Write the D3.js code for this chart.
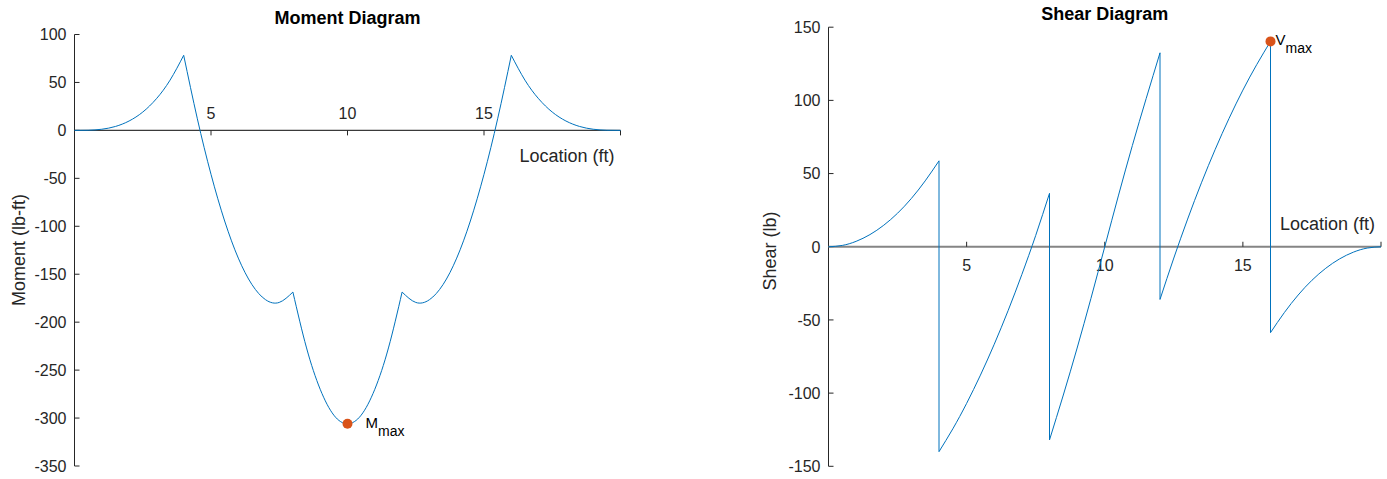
<!DOCTYPE html>
<html lang="en">
<head>
    <meta charset="utf-8">
    <script src="https://d3js.org/d3.v7.min.js"></script>
    <style>
        body {
            margin: 0px;
            background: #fff;
        }
        text {
            font-family: "Liberation Sans", Arial, sans-serif;
            fill: #262626;
        }
        .title {
            font-size: 18px;
            font-weight: bold;
            fill: #000;
        }
    </style>
</head>
<body>
<svg id="chart" width="1387" height="479"></svg>
<script>
// Locations along the beam (ft)
var locations = [0, 0.5, 1, 1.5, 2, 2.5, 3, 3.5, 4, 4.5, 5, 5.5, 6, 6.5, 7, 7.5, 8, 8.5, 9, 9.5,
    10, 10.5, 11, 11.5, 12, 12.5, 13, 13.5, 14, 14.5, 15, 15.5, 16, 16.5, 17, 17.5, 18, 18.5, 19, 19.5, 20];

// Bending moment (lb-ft)
var moment = [0, 0.15, 1.2, 4.1, 9.8, 19.1, 33.0, 52.4, 78.3, 12.1, -45.8, -94.5, -133.2, -160.8, -176.6, -179.4, -168.6, -226.9, -270.0, -297.0,
    -306.0, -297.0, -270.0, -226.9, -168.6, -179.4, -176.6, -160.8, -133.2, -94.5, -45.8, 12.1, 78.3, 52.4, 33.0, 19.1, 9.8, 4.1, 1.2, 0.15, 0];

// Locations where the shear jumps (point loads) / moment has a kink
var loadPoints = [4, 8, 12, 16];

// Shear (lb); each jump location is listed twice (left / right value)
var shearLocations = [0, 0.5, 1, 1.5, 2, 2.5, 3, 3.5, 4,
    4, 4.5, 5, 5.5, 6, 6.5, 7, 7.5, 8,
    8, 8.5, 9, 9.5, 10, 10.5, 11, 11.5, 12,
    12, 12.5, 13, 13.5, 14, 14.5, 15, 15.5, 16,
    16, 16.5, 17, 17.5, 18, 18.5, 19, 19.5, 20];
var shear = [0, 0.9, 3.7, 8.3, 14.7, 22.9, 33.0, 45.0, 58.7,
    -140.0, -124.4, -107.0, -87.7, -66.6, -43.7, -18.9, 7.7, 36.5,
    -132.0, -101.3, -69.2, -35.3, 0.0, 35.3, 69.2, 101.3, 132.5,
    -36.0, -7.7, 18.9, 43.7, 66.6, 87.7, 107.0, 124.4, 140.3,
    -58.7, -45.0, -33.0, -22.9, -14.7, -8.3, -3.7, -0.9, 0.0];

// Extreme values that get a marker
var mMax = [10, -306];
var vMax = [16, 140.3];

// Tick values
var xTicks = [5, 10, 15, 20];
var xTickLabels = ["5", "10", "15", ""];
var momentTicks = [100, 50, 0, -50, -100, -150, -200, -250, -300, -350];
var shearTicks = [150, 100, 50, 0, -50, -100, -150];

var lineColor = "#0072bd";
var dotColor = "#d95319";

var svg = d3.select("#chart");

// Split a series into smooth pieces: break at duplicated x (jumps) and at kinks
function splitSeries(xs, ys, kinks) {
    var segs = [];
    var cur = [];
    for (var i = 0; i < xs.length; i++) {
        if (i > 0 && xs[i] === xs[i - 1]) {
            segs.push(cur);
            cur = [];
        }
        cur.push([xs[i], ys[i]]);
        if (kinks && kinks.indexOf(xs[i]) >= 0 && i > 0 && i < xs.length - 1 && xs[i + 1] !== xs[i]) {
            segs.push(cur);
            cur = [[xs[i], ys[i]]];
        }
    }
    segs.push(cur);
    return segs;
}

function drawPanel(opt) {
    var g = svg.append("g");
    var x = d3.scaleLinear().domain([0, 20]).range(opt.xRange);
    var y = d3.scaleLinear().domain(opt.yDomain).range(opt.yRange);

    // Title
    g.append("text")
        .attr("class", "title")
        .attr("x", (opt.xRange[0] + opt.xRange[1]) / 2)
        .attr("y", opt.titleY)
        .attr("text-anchor", "middle")
        .text(opt.title);

    // Y axis (at x = 0)
    g.append("line")
        .attr("x1", x(0)).attr("x2", x(0))
        .attr("y1", y(opt.yDomain[1])).attr("y2", y(opt.yDomain[0]))
        .attr("stroke", "#262626").attr("stroke-width", 1);
    g.selectAll(".ytick").data(opt.yTicks).enter().append("line")
        .attr("x1", x(0)).attr("x2", x(0) + 5)
        .attr("y1", function(d) { return y(d); })
        .attr("y2", function(d) { return y(d); })
        .attr("stroke", "#262626");
    g.selectAll(".ylab").data(opt.yTicks).enter().append("text")
        .attr("x", x(0) - 8)
        .attr("y", function(d) { return y(d); })
        .attr("dy", "0.36em")
        .attr("text-anchor", "end")
        .style("font-size", "16px")
        .text(function(d) { return String(d); });

    // Y label
    g.append("text")
        .attr("transform", "translate(" + opt.yLabelPos[0] + "," + opt.yLabelPos[1] + ") rotate(-90)")
        .attr("text-anchor", "middle")
        .style("font-size", "18px")
        .text(opt.yLabel);

    // X axis (at y = 0)
    g.append("line")
        .attr("x1", x(0)).attr("x2", x(20))
        .attr("y1", y(0)).attr("y2", y(0))
        .attr("stroke", opt.xAxisColor).attr("stroke-width", opt.xAxisWidth);
    g.selectAll(".xtick").data(xTicks).enter().append("line")
        .attr("x1", function(d) { return x(d); })
        .attr("x2", function(d) { return x(d); })
        .attr("y1", y(0))
        .attr("y2", y(0) + opt.tickDir * 5)
        .attr("stroke", "#262626");
    g.selectAll(".xlab").data(xTicks).enter().append("text")
        .attr("x", function(d) { return x(d); })
        .attr("y", y(0) + opt.xLabelOffset)
        .attr("text-anchor", "middle")
        .style("font-size", "16px")
        .text(function(d, i) { return xTickLabels[i]; });

    g.append("text")
        .attr("x", x(20) + opt.xTitleOffset[0])
        .attr("y", y(0) + opt.xTitleOffset[1])
        .attr("text-anchor", "end")
        .style("font-size", "18px")
        .text("Location (ft)");

    // Curve
    var line = d3.line()
        .x(function(d) { return x(d[0]); })
        .y(function(d) { return y(d[1]); })
        .curve(d3.curveNatural);
    var segs = splitSeries(opt.xs, opt.ys, loadPoints);
    g.selectAll(".seg").data(segs).enter().append("path")
        .attr("d", line)
        .attr("fill", "none")
        .attr("stroke", lineColor)
        .attr("stroke-width", 1);
    // vertical jumps between pieces
    for (var i = 1; i < segs.length; i++) {
        var a = segs[i - 1][segs[i - 1].length - 1];
        var b = segs[i][0];
        if (a[0] === b[0] && a[1] !== b[1]) {
            g.append("line")
                .attr("x1", x(a[0])).attr("x2", x(b[0]))
                .attr("y1", y(a[1])).attr("y2", y(b[1]))
                .attr("stroke", lineColor).attr("stroke-width", 1);
        }
    }

    // Marker
    g.append("circle")
        .attr("cx", x(opt.marker[0]))
        .attr("cy", y(opt.marker[1]))
        .attr("r", 5)
        .attr("fill", dotColor);
    var t = g.append("text")
        .attr("x", x(opt.marker[0]) + opt.markerText[0])
        .attr("y", y(opt.marker[1]) + opt.markerText[1])
        .style("font-size", "15px")
        .style("fill", "#000");
    t.append("tspan").text(opt.markerLetter);
    t.append("tspan").attr("dy", 8).style("font-size", "14px").text("max");
}

drawPanel({
    title: "Moment Diagram", titleY: 24,
    xRange: [74.5, 620.5], yDomain: [-350, 100], yRange: [466, 34.5],
    yTicks: momentTicks, yLabel: "Moment (lb-ft)", yLabelPos: [25, 250],
    xAxisColor: "#3a3a3a", xAxisWidth: 1.2, tickDir: 1, xLabelOffset: -11,
    xTitleOffset: [-6, 32],
    xs: locations, ys: moment,
    marker: mMax, markerLetter: "M", markerText: [18, 4]
});

drawPanel({
    title: "Shear Diagram", titleY: 20,
    xRange: [828.5, 1381], yDomain: [-150, 150], yRange: [466.3, 27.2],
    yTicks: shearTicks, yLabel: "Shear (lb)", yLabelPos: [776, 251],
    xAxisColor: "#858585", xAxisWidth: 2, tickDir: -1, xLabelOffset: 24,
    xTitleOffset: [-6, -17],
    xs: shearLocations, ys: shear,
    marker: vMax, markerLetter: "V", markerText: [5, 4]
});
</script>
</body>
</html>
